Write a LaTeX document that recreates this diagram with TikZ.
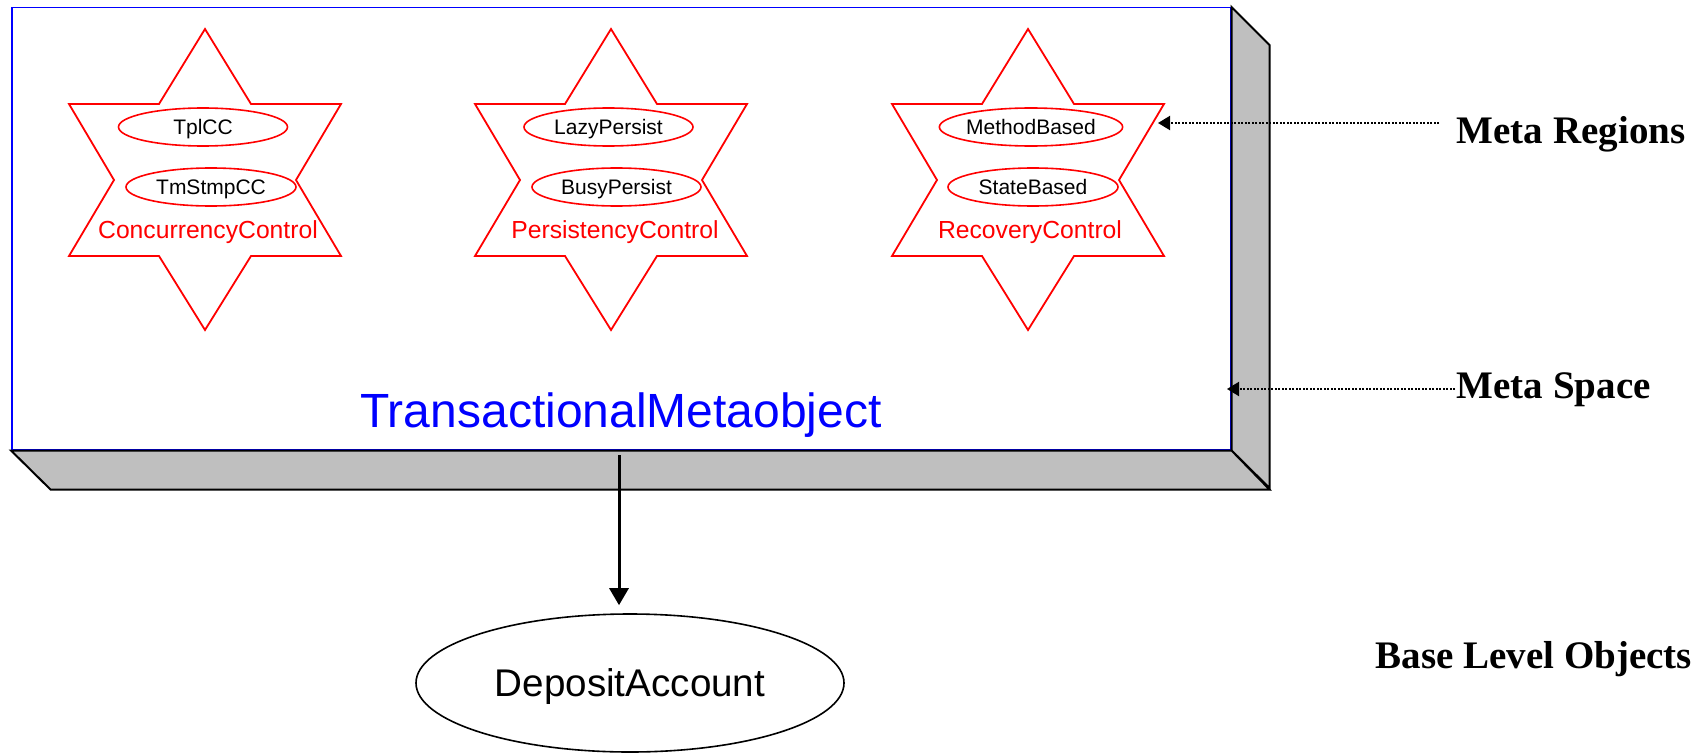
\documentclass[tikz,border=0pt]{standalone}
\usepackage{fontspec}
\newfontfamily\sans{Liberation Sans}
\newfontfamily\serif{Liberation Serif}
\usetikzlibrary{arrows.meta, positioning, shapes.geometric}
\tikzset{
  every picture/.style={line width=1.6pt},
  face/.style={fill=black!25, draw=black, line width=2pt, line join=miter},
  region/.style={draw=red, ellipse, minimum height=38pt, inner sep=0pt, text=black,
    font=\sans\fontsize{21}{25}\selectfont, text height=15pt, text depth=0pt},
  rtitle/.style={text=red, anchor=base, inner sep=0pt, font=\sans\fontsize{24.7}{29}\selectfont},
  note/.style={anchor=base west, inner sep=0pt, font=\serif\bfseries\fontsize{39}{46}\selectfont},
  pointer/.style={dash pattern=on 2pt off 1.5pt, line width=2pt, -{Triangle[length=12pt, width=14pt]}},
  hexstar/.pic={
    \draw[red, line width=1.8pt] (0,-151) -- (46,-76) -- (136,-76) -- (91,0) -- (136,76)
      -- (46,76) -- (0,150) -- (-46,76) -- (-136,76) -- (-91,0) -- (-136,-76) -- (-46,-76) -- cycle;
  }
}

\begin{document}
\begin{tikzpicture}[x=1pt, y=-1pt]
    \useasboundingbox (0,0) rectangle (1702,752);

    % meta space
    \node [draw=blue, line width=1.5pt, fill=white, anchor=north west, minimum width=1219pt,
      minimum height=442pt, inner sep=0pt] (space) at (11,7) {};
    \draw [face] (space.north east) -- ++(38,38) -- ++(0,443) -- (space.south east) -- cycle;
    \draw [face] (space.south west) -- (space.south east) -- ++(38,39) -- ++(-1219,0) -- cycle;
    \node [text=blue, anchor=base, inner sep=0pt, font=\sans\fontsize{48}{56}\selectfont] (tmo) at (621,427) {TransactionalMetaobject};

    % meta regions
    \pic at (205,180) {hexstar};
    \node [region, minimum width=169pt] (tpl) at (203,127) {TplCC};
    \node [region, minimum width=170pt] (tmstmp) at (211,187) {TmStmpCC};
    \node [rtitle] (cc) at (208,238) {ConcurrencyControl};

    \pic at (611,180) {hexstar};
    \node [region, minimum width=169pt] (lazy) at (608.5,127) {LazyPersist};
    \node [region, minimum width=169pt] (busy) at (616.5,187) {BusyPersist};
    \node [rtitle] (pc) at (615,238) {PersistencyControl};

    \pic at (1028,180) {hexstar};
    \node [region, minimum width=182pt] (method) at (1031,127) {MethodBased};
    \node [region, minimum width=170pt] (state) at (1033,187) {StateBased};
    \node [rtitle] (rc) at (1030,238) {RecoveryControl};

    % base level
    \node [draw, ellipse, minimum width=428pt, minimum height=138pt, inner sep=0pt,
      font=\sans\fontsize{38.6}{45}\selectfont, text height=27.5pt, text depth=0pt] (deposit) at (630,683) {DepositAccount};
    \coordinate (src) at (619,455);
    \draw [line width=3pt, -{Triangle[length=17pt, width=19pt]}, shorten >=8pt] (src) -- (src |- deposit.north);

    % levels
    \node [note] (regions) at (1456,143) {Meta Regions};
    \node [note] (mspace) at (1456,398) {Meta Space};
    \node [note] (base) at (1375,668) {Base Level Objects};
    \coordinate (r0) at (1439,123);
    \coordinate (r1) at (1158,123);
    \coordinate (s0) at (1455,389);
    \coordinate (s1) at (1227,389);
    \draw [pointer] (r0) -- (r1);
    \draw [pointer] (s0) -- (s1);
\end{tikzpicture}
\end{document}
